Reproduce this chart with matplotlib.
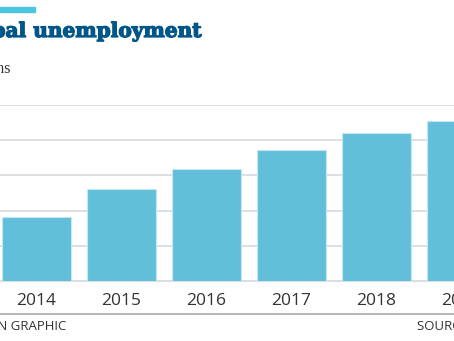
import matplotlib.pyplot as plt
import matplotlib.patheffects as pe
from matplotlib.patches import Rectangle
from matplotlib.lines import Line2D

# Global unemployment, millions (ILO)
years = ["2014", "2015", "2016", "2017", "2018", "2019"]
unemployed = [199.1, 203.1, 205.9, 208.6, 211.0, 212.7]

W, H = 454, 341
BAR_COLOR = "#62bfd9"
TITLE_COLOR = "#005689"
TEXT_COLOR = "#333333"


def px(x, y):
    """Figure pixel position (from top-left) to figure fraction."""
    return x / W, 1 - y / H


fig = plt.figure(figsize=(W / 100, H / 100), dpi=100)

# axes are wider than the figure, so the value labels fall off the left edge
ax = fig.add_axes([-48.5 / W, (H - 281) / H, 595 / W, 176 / H])
ax.set_xlim(-1, 6)
ax.set_ylim(190, 215)

xs = range(len(years))
ax.bar(xs, unemployed, width=0.81, color=BAR_COLOR,
       edgecolor="#c4e8f2", linewidth=0.8, zorder=3)

ax.set_yticks([190, 195, 200, 205, 210, 215])
ax.yaxis.grid(True, color="#d9dde0", linewidth=1.3, zorder=0)
ax.set_yticklabels([])
ax.set_xticks(list(xs))
ax.set_xticklabels(years, fontsize=12.5, color=TEXT_COLOR, family="Open Sans")
ax.tick_params(length=0, pad=8.5)
for side in ["top", "right", "left"]:
    ax.spines[side].set_visible(False)
ax.spines["bottom"].set_color("#d9dde0")
ax.spines["bottom"].set_linewidth(1.3)

# header
fig.patches.append(Rectangle(px(0, 12), 35 / W, 5 / H, transform=fig.transFigure,
                             color="#4bc6df", zorder=5))
title = fig.text(*px(202, 37), "Global unemployment", ha="right", va="baseline",
                 fontsize=14.5, fontweight="bold", family="DejaVu Serif",
                 color=TITLE_COLOR)
title.set_path_effects([pe.withStroke(linewidth=0.9, foreground=TITLE_COLOR)])
fig.text(*px(11, 73), "Millions", ha="right", va="baseline",
         fontsize=11.5, family="Liberation Serif", color=TEXT_COLOR)

# footer
fig.lines.append(Line2D([0, 1], [px(0, 313.5)[1]] * 2, transform=fig.transFigure,
                        color="#aaaaaa", linewidth=1.2))
fig.text(*px(66, 327), "GUARDIAN GRAPHIC", ha="right", va="center",
         fontsize=9.5, family="Open Sans", color=TEXT_COLOR)
fig.text(*px(417, 327), "SOURCE: ILO", ha="left", va="center",
         fontsize=9.5, family="Open Sans", color=TEXT_COLOR)

fig.savefig("out.png", dpi=100)
